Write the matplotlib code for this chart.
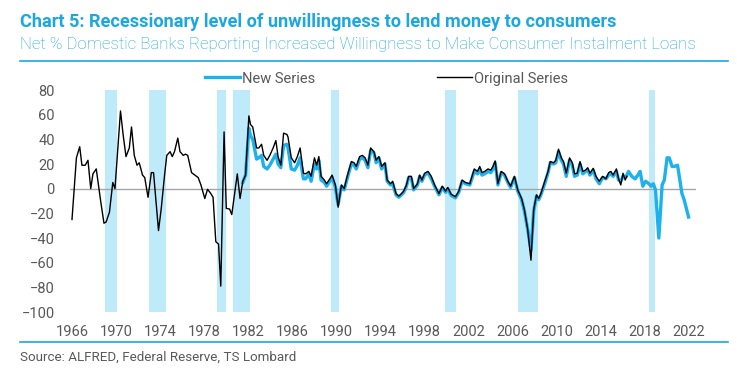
import numpy as np
import matplotlib
matplotlib.use("Agg")
import matplotlib.pyplot as plt
from matplotlib.lines import Line2D

plt.rcParams['font.family'] = ['Roboto', 'DejaVu Sans']

# Original series
orig_years = [1966.0, 1966.4, 1966.7, 1966.9, 1967.2, 1967.45, 1967.7, 1967.9, 1968.2, 1968.4,
              1968.6, 1968.9, 1969.1, 1969.4, 1969.7, 1969.9, 1970.1, 1970.4, 1970.65, 1970.9,
              1971.2, 1971.4, 1971.65, 1971.9, 1972.1, 1972.4, 1972.6, 1972.9, 1973.2, 1973.4,
              1973.7, 1973.85, 1974.1, 1974.4, 1974.6, 1974.9, 1975.1, 1975.3, 1975.6, 1975.8,
              1976.1, 1976.3, 1976.5, 1976.85, 1977.15, 1977.45, 1977.7, 1978.05, 1978.3, 1978.6,
              1978.8, 1979.05, 1979.3, 1979.5, 1979.8, 1980.0, 1980.3, 1980.5, 1981.0, 1981.25,
              1981.5, 1981.75, 1982.05, 1982.2, 1982.4, 1982.75, 1982.95, 1983.2, 1983.4, 1983.7,
              1983.95, 1984.25, 1984.5, 1984.7, 1984.95, 1985.2, 1985.5, 1985.6, 1985.9, 1986.2,
              1986.45, 1986.7, 1987.0, 1987.2, 1987.5, 1987.7, 1988.0, 1988.2, 1988.4, 1988.6,
              1988.9, 1989.1, 1989.4, 1989.6, 1989.9, 1990.15, 1990.45, 1990.7, 1991.0, 1991.35,
              1991.6, 1991.8, 1992.1, 1992.35, 1992.6, 1992.85, 1993.1, 1993.4, 1993.6, 1993.85,
              1994.1, 1994.4, 1994.6, 1994.9, 1995.1, 1995.4, 1995.65, 1995.9, 1996.1, 1996.35,
              1996.55, 1996.8, 1997.0, 1997.35, 1997.55, 1997.75, 1998.0, 1998.3, 1998.6, 1998.9,
              1999.3, 1999.6, 1999.9, 2000.1, 2000.4, 2000.8, 2001.1, 2001.4, 2001.7, 2002.1,
              2002.5, 2002.8, 2003.0, 2003.2, 2003.45, 2003.75, 2004.0, 2004.2, 2004.4, 2004.65,
              2004.95, 2005.25, 2005.55, 2005.8, 2006.15, 2006.45, 2006.8, 2007.05, 2007.35, 2007.65,
              2007.9, 2008.15, 2008.35, 2008.55, 2008.9, 2009.2, 2009.4, 2009.7, 2009.9, 2010.15,
              2010.4, 2010.6, 2010.85, 2011.15, 2011.4, 2011.6, 2011.85, 2012.1, 2012.35, 2012.6,
              2012.8, 2013.0, 2013.3, 2013.55, 2013.85, 2014.15, 2014.45, 2014.7, 2014.9, 2015.1,
              2015.4, 2015.6, 2015.8, 2016.0, 2016.2, 2016.35]
orig_vals = [-25, 25, 34, 19, 19, 23, 0, 12, 16, 3,
             -10, -28, -27, -19, 5, 0, 25, 63, 43, 26,
             33, 50, 27, 19, 21, 11, 9, -7, 13, 13,
             -19, -34, -16, 11, 27, 30, 26, 30, 41, 30,
             27, 28, 27, 13, 11, 9, 3, -8, -0.5, -4,
             -7, -43, -45, -79, 46, -16, -16.5, -21, 12, -8,
             6, 11, 59, 52, 50, 33, 33, 36, 27, 23,
             27, 33, 39, 26, 19, 45, 44, 42, 25, 21,
             26, 33, 12.5, 12, 14, 10, 25, 19, 26, 10,
             7, 4, 8, 11, 3, -15, 3, 0, 11, 22,
             21, 18, 26, 27, 25, 19, 33, 30, 23, 26,
             18, 21, 7, 4, 6, -4, -6, -4, -2, 3,
             10, 10, 0, 4, 11, 7, 12.5, 14, 10, 3,
             -4, 2, -2, 1, -4.5, -6.5, -2, 7, 5, 4,
             16, 14, 18, 13, 14, 16, 15, 18, 22.5, 4,
             14, 12, 6, 2, 10, -1, -8, -17, -33, -58,
             -17, -5, -8, -4, 6, 14, 22, 21, 23, 32,
             25, 22, 12.5, 25, 21, 12, 12.5, 22, 14, 15,
             17, 12.5, 16.5, 10, 6, 10, 8, 13, 14, 11,
             16, 8, 3, 12.5, 7, 10]

# New series
new_years = [1981.5, 1981.75, 1982.05, 1982.2, 1982.4, 1982.75, 1982.95, 1983.2, 1983.4, 1983.7,
             1983.95, 1984.25, 1984.5, 1984.7, 1984.95, 1985.2, 1985.5, 1985.6, 1985.9, 1986.2,
             1986.45, 1986.7, 1987.0, 1987.2, 1987.5, 1987.7, 1988.0, 1988.2, 1988.4, 1988.6,
             1988.9, 1989.1, 1989.4, 1989.6, 1989.9, 1990.15, 1990.45, 1990.7, 1991.0, 1991.35,
             1991.6, 1991.8, 1992.1, 1992.35, 1992.6, 1992.85, 1993.1, 1993.4, 1993.6, 1993.85,
             1994.1, 1994.4, 1994.6, 1994.9, 1995.1, 1995.4, 1995.65, 1995.9, 1996.1, 1996.35,
             1996.55, 1996.8, 1997.0, 1997.35, 1997.55, 1997.75, 1998.0, 1998.3, 1998.6, 1998.9,
             1999.3, 1999.6, 1999.9, 2000.1, 2000.4, 2000.8, 2001.1, 2001.4, 2001.7, 2002.1,
             2002.5, 2002.8, 2003.0, 2003.2, 2003.45, 2003.75, 2004.0, 2004.2, 2004.4, 2004.65,
             2004.95, 2005.25, 2005.55, 2005.8, 2006.15, 2006.45, 2006.8, 2007.05, 2007.35, 2007.65,
             2007.9, 2008.15, 2008.35, 2008.55, 2008.9, 2009.2, 2009.4, 2009.7, 2009.9, 2010.15,
             2010.4, 2010.6, 2010.85, 2011.15, 2011.4, 2011.6, 2011.85, 2012.1, 2012.35, 2012.6,
             2012.8, 2013.0, 2013.3, 2013.55, 2013.85, 2014.15, 2014.45, 2014.7, 2014.9, 2015.1,
             2015.4, 2015.6, 2015.8, 2016.0, 2016.3, 2016.5, 2016.8, 2017.1, 2017.35, 2017.55,
             2017.8, 2018.05, 2018.35, 2018.55, 2018.75, 2018.95, 2019.25, 2019.55, 2019.75, 2020.0,
             2020.2, 2020.45, 2020.65, 2020.95, 2021.35, 2021.55, 2021.95]
new_vals = [5, 11, 49, 43, 40, 24, 25, 27, 18, 16,
            19, 24, 28, 20, 17, 35, 36, 33, 16, 15,
            19, 25, 8, 8, 12, 6, 20, 16, 23, 7,
            5, 2, 6, 9, 1, -13, 2, -1, 9, 20,
            19, 16, 24, 25, 23, 17, 31, 29, 21, 25,
            16, 20, 6, 3, 4, -5, -7, -5, -3, 2,
            9, 8, -1, 3, 10, 6, 11, 13, 8, 2,
            -5, 1, -3, 0, -5.5, -7.5, -3, 6, 4, 3,
            14, 12, 16, 11, 12, 14, 13, 16, 21, 3,
            13, 11, 5, 1, 9, -2, -9, -18, -33, -50,
            -18, -6, -9, -5, 4, 13, 21, 20, 21, 30,
            23, 20, 10, 23, 19, 10, 11, 20, 12, 14,
            15, 11, 15, 8, 4, 9, 8, 11, 12, 10,
            14, 7, 6, 10, 10, 14, 10, 8, 11, 14,
            2, 6, 4, 2, 4, -1, -40, 3, 7, 25,
            25, 18, 18, 19, -4, -9, -23]

# Recession periods (start, end)
rec_start = [1969.0, 1972.98, 1979.15, 1980.62, 1989.48, 1999.88, 2006.5, 2018.4]
rec_end = [1970.05, 1974.5, 1979.93, 1982.11, 1990.27, 2000.88, 2008.3, 2018.92]

xticks = list(range(1966, 2023, 4))
yticks = list(range(-100, 81, 20))

blue = '#1DB1EE'
title_blue = '#1BA7E0'
band = '#BEEAFA'
grey = '#595959'

fig = plt.figure(figsize=(7.37, 3.75), dpi=100)
ax = fig.add_axes([0.095, 0.168, 0.849, 0.592])

for s, e in zip(rec_start, rec_end):
    ax.axvspan(s, e, color=band, lw=0, zorder=0)

ax.axhline(0, color='#A6A6A6', lw=1.0, zorder=1)
ax.plot(new_years, new_vals, color=blue, lw=2.4, zorder=2, label='New Series',
        solid_joinstyle='round')
ax.plot(orig_years, orig_vals, color='black', lw=1.0, zorder=3, label='Original Series')

ax.set_xlim(1965.82, 2022.6)
ax.set_ylim(-100, 80)
ax.set_xticks(xticks)
ax.set_yticks(yticks)
ax.tick_params(length=0, labelsize=10.5, labelcolor=grey)
ax.tick_params(axis='y', pad=11)
ax.tick_params(axis='x', pad=9)
for sp in ax.spines.values():
    sp.set_visible(False)

leg = ax.legend(ncol=2, loc='lower center', bbox_to_anchor=(0.506, 1.02), frameon=False,
                handlelength=2.4, handletextpad=0.1, columnspacing=8.4, fontsize=10.5,
                borderaxespad=0, borderpad=0)
for t in leg.get_texts():
    t.set_color(grey)

fig.text(0.027, 0.942, 'Chart 5: Recessionary level of unwillingness to lend money to consumers',
         color=title_blue, fontsize=13.1, fontweight='bold', va='center', ha='left')
fig.text(0.027, 0.882, 'Net % Domestic Banks Reporting Increased Willingness to Make Consumer Instalment Loans',
         color=title_blue, fontsize=12.2, fontweight='light', va='center', ha='left')
fig.add_artist(Line2D([0.027, 0.988], [0.838, 0.838], color=title_blue, lw=1.2))
fig.add_artist(Line2D([0.027, 0.988], [0.088, 0.088], color=title_blue, lw=1.2))
fig.text(0.027, 0.048, 'Source: ALFRED, Federal Reserve, TS Lombard',
         color=grey, fontsize=9.6, va='center', ha='left')

fig.savefig('out.png', dpi=100)
